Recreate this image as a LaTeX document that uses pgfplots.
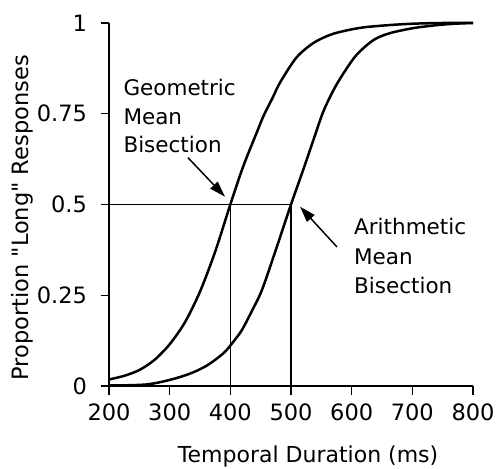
\documentclass[border=0pt]{standalone}
\usepackage{fontspec}
\setmainfont{DejaVu Sans}[Ligatures=TeXOff]
\usepackage{pgfplots}
\pgfplotsset{compat=1.18}
\usetikzlibrary{arrows.meta}

\begin{document}
\begin{tikzpicture}
\path[use as bounding box] (0,0) rectangle (497pt,468pt);
\begin{axis}[
  at={(109pt,82pt)}, anchor=south west,
  scale only axis, width=364pt, height=363pt,
  xmin=200, xmax=800, ymin=0, ymax=1,
  axis x line*=bottom, axis y line*=left,
  axis line style={line width=1.4pt},
  xtick={200,300,...,800}, ytick={0,0.25,0.5,0.75,1},
  tick align=outside, major tick length=8.5pt,
  tick style={line width=1.3pt, black},
  /pgf/number format/assume math mode=true,
  ticklabel style={font=\fontsize{22.5}{26}\selectfont},
  yticklabel style={/pgf/number format/fixed, xshift=-10pt},
  xticklabel style={/pgf/number format/1000 sep={}, yshift=-6pt},
  xlabel={Temporal Duration (ms)},
  ylabel={Proportion "Long" Responses},
  xlabel style={font=\fontsize{22}{26}\selectfont,
                at={(axis description cs:0.547,-0.212)}, anchor=base},
  ylabel style={font=\fontsize{22.5}{26}\selectfont,
                at={(axis description cs:-0.221,0.463)}, anchor=base},
  clip=false,
]
% bisection reference lines
\addplot[line width=1.3pt] coordinates {(200,0.5) (500,0.5)};
\addplot[line width=1.3pt] coordinates {(400,0) (400,0.5)};
\addplot[line width=1.3pt] coordinates {(500,0) (500,0.5)};

% psychometric function, geometric-mean bisection
\addplot[line width=2.5pt, smooth, tension=0.5] coordinates {
  (200,0.018) (225,0.028) (250,0.044) (275,0.072) (300,0.115)
  (325,0.175) (350,0.26) (375,0.37) (400,0.5) (421,0.604)
  (443,0.696) (455,0.745) (470,0.795) (482,0.836) (509,0.905)
  (537,0.945) (564,0.967) (590,0.979) (620,0.988) (660,0.994)
  (700,0.998) (750,1.0) (800,1.0)
};

% psychometric function, arithmetic-mean bisection
\addplot[line width=2.5pt, smooth, tension=0.5] coordinates {
  (200,0.002) (230,0.002) (260,0.004) (280,0.009) (303,0.018)
  (325,0.029) (342,0.04) (360,0.055) (375,0.072) (391,0.094)
  (405,0.122) (419,0.154) (435,0.205) (452,0.264) (475,0.375)
  (500,0.5) (520,0.595) (537,0.678) (553,0.755) (570,0.815)
  (586,0.86) (608,0.912) (636,0.953) (663,0.972) (702,0.986)
  (740,0.994) (770,0.998) (800,1.0)
};

% annotations
\draw[line width=1.5pt, -{Triangle[length=16pt,width=10pt]}]
  (axis cs:330.2,0.629) -- (axis cs:391.2,0.5215);
\draw[line width=1.5pt, -{Triangle[length=16pt,width=10pt]}]
  (axis cs:575.8,0.383) -- (axis cs:514.8,0.494);
\node[anchor=north west, inner sep=0pt, align=left,
      font=\fontsize{21.5}{28.5}\selectfont]
  at (axis cs:223.6,0.8457) {Geometric\\Mean\\Bisection};
\node[anchor=north west, inner sep=0pt, align=left,
      font=\fontsize{21.5}{29.2}\selectfont]
  at (axis cs:603.8,0.462) {Arithmetic\\Mean\\Bisection};
\end{axis}
\end{tikzpicture}
\end{document}
